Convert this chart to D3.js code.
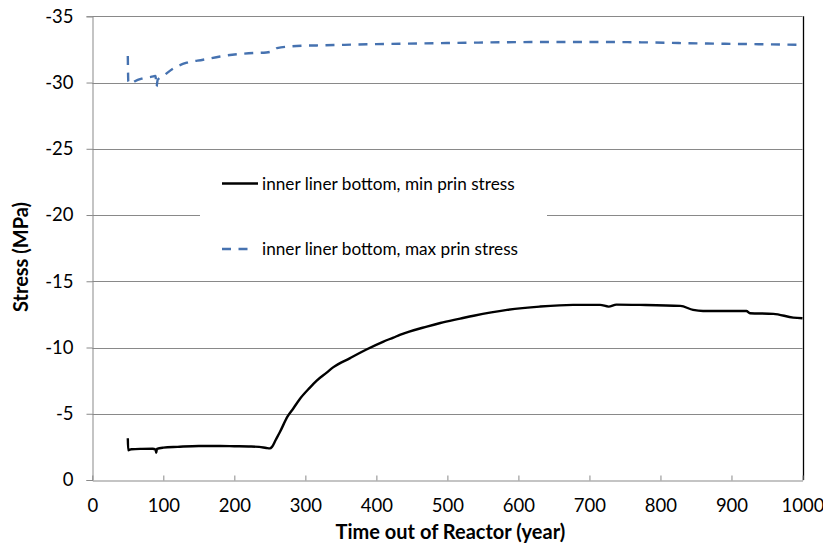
<!DOCTYPE html>
<html>
<head>
<meta charset="utf-8">
<script src="https://cdn.jsdelivr.net/npm/d3@7"></script>
<style>
  html, body { margin: 0; padding: 0; background: #fff; }
  svg { display: block; }
  text { font-family: Lato, "Liberation Sans", sans-serif; fill: #000; }
</style>
</head>
<body>
<svg id="chart" width="823" height="546"></svg>
<script>
// ---- data ----
const xTicks = [0, 100, 200, 300, 400, 500, 600, 700, 800, 900, 1000];
const yTicks = [0, -5, -10, -15, -20, -25, -30, -35];

const minTime = [50, 50.5, 55, 70, 85, 89, 90, 91, 100, 120, 150, 180, 200, 220, 235, 245, 250, 253, 258, 264, 275, 283, 292, 306, 316, 330, 339, 363, 377, 386, 410, 424, 433, 471, 490, 518, 537, 584, 630, 677, 715, 727, 738, 771, 828, 846, 860, 921, 926, 959, 987, 1000];
const minStress = [-3.15, -2.25, -2.32, -2.35, -2.36, -2.3, -2.06, -2.35, -2.44, -2.5, -2.57, -2.57, -2.55, -2.53, -2.5, -2.42, -2.39, -2.5, -3.0, -3.6, -4.8, -5.4, -6.1, -6.95, -7.5, -8.1, -8.5, -9.2, -9.6, -9.85, -10.45, -10.75, -10.95, -11.58, -11.85, -12.18, -12.4, -12.84, -13.09, -13.22, -13.22, -13.09, -13.24, -13.22, -13.14, -12.84, -12.76, -12.76, -12.59, -12.54, -12.26, -12.21];

const maxTime = [50, 50.7, 54, 60, 70, 86, 89, 90.5, 92, 100, 114, 133, 156, 180, 227, 245, 255, 260, 297, 316, 400, 499, 600, 659, 715, 781, 856, 930, 1000];
const maxStress = [-32.0, -30.1, -29.9, -30.1, -30.3, -30.46, -30.5, -29.7, -30.2, -30.5, -31.06, -31.5, -31.72, -31.97, -32.23, -32.27, -32.4, -32.6, -32.78, -32.8, -32.9, -32.98, -33.05, -33.06, -33.06, -33.03, -32.95, -32.9, -32.85];

const seriesNames = ["inner liner bottom, min prin stress", "inner liner bottom, max prin stress"];
const xTitle = "Time out of Reactor (year)";
const yTitle = "Stress (MPa)";

// ---- layout ----
const L = 92.3, R = 802.5, T = 16.3, B = 480;
const svg = d3.select("#chart");
const x = d3.scaleLinear().domain([0, 1000]).range([L, R]);
const y = d3.scaleLinear().domain([0, -35]).range([B, T]);
const grey = "#898989";

// gridlines
svg.append("g").selectAll("line").data(yTicks.filter(v => v !== 0)).join("line")
  .attr("x1", L).attr("x2", R)
  .attr("y1", d => Math.round(y(d)) + 0.5).attr("y2", d => Math.round(y(d)) + 0.5)
  .attr("stroke", grey).attr("stroke-width", 1);

// right border
svg.append("line").attr("x1", Math.round(R) + 0.5).attr("x2", Math.round(R) + 0.5)
  .attr("y1", y(-35)).attr("y2", y(0)).attr("stroke", "#000").attr("stroke-width", 1.3);

// y axis
const yAxis = d3.axisLeft(y).tickValues(yTicks).tickSize(6).tickPadding(13);
const gy = svg.append("g").attr("transform", `translate(${Math.round(L) + 0.5},0)`).call(yAxis);
gy.select(".domain").attr("stroke", grey);
gy.selectAll(".tick line").attr("stroke", grey);
gy.selectAll(".tick text").style("font-size", "18.5px").attr("fill", "#000")
  .text(d => d === 0 ? "0" : "-" + Math.abs(d));

// x axis (ticks inside)
const xAxis = d3.axisBottom(x).tickValues(xTicks).tickSizeInner(-5).tickSizeOuter(0).tickPadding(18).tickFormat(d3.format("d"));
const gx = svg.append("g").attr("transform", `translate(0,${Math.round(B) + 0.5})`).call(xAxis);
gx.select(".domain").attr("stroke", grey);
gx.selectAll(".tick line").attr("stroke", grey);
gx.selectAll(".tick text").style("font-size", "18.5px").attr("fill", "#000");

// titles
svg.append("text").attr("x", (L + R) / 2 + 3).attr("y", 538.5).attr("text-anchor", "middle")
  .style("font-size", "20px").style("font-weight", "bold").text(xTitle);
svg.append("text").attr("transform", "translate(28,257) rotate(-90)").attr("text-anchor", "middle")
  .style("font-size", "20px").style("font-weight", "bold").text(yTitle);

// lines
const line = d3.line().x(d => x(d[0])).y(d => y(d[1])).curve(d3.curveMonotoneX);
const minData = minTime.map((t, i) => [t, minStress[i]]);
const maxData = maxTime.map((t, i) => [t, maxStress[i]]);
const blue = "#4672b0";

svg.append("path").datum(minData).attr("d", line).attr("fill", "none")
  .attr("stroke", "#000").attr("stroke-width", 2.4).attr("stroke-linejoin", "round");
svg.append("path").datum(maxData).attr("d", line).attr("fill", "none")
  .attr("stroke", blue).attr("stroke-width", 2.4).attr("stroke-dasharray", "9,7.5").attr("stroke-linejoin", "round");

// legend
const lg = svg.append("g");
lg.append("rect").attr("x", 200).attr("y", 158).attr("width", 347).attr("height", 115).attr("fill", "#fff");
const legendItems = [
  { name: seriesNames[0], color: "#000", dash: null, y: 183.5 },
  { name: seriesNames[1], color: blue, dash: "9,7.5", y: 249 }
];
legendItems.forEach(it => {
  lg.append("line").attr("x1", 222).attr("x2", it.dash ? 250 : 258).attr("y1", it.y).attr("y2", it.y)
    .attr("stroke", it.color).attr("stroke-width", 2.4).attr("stroke-dasharray", it.dash);
  lg.append("text").attr("x", 262).attr("y", it.y).attr("dy", "0.35em")
    .style("font-size", "17.2px").text(it.name);
});
</script>
</body>
</html>
